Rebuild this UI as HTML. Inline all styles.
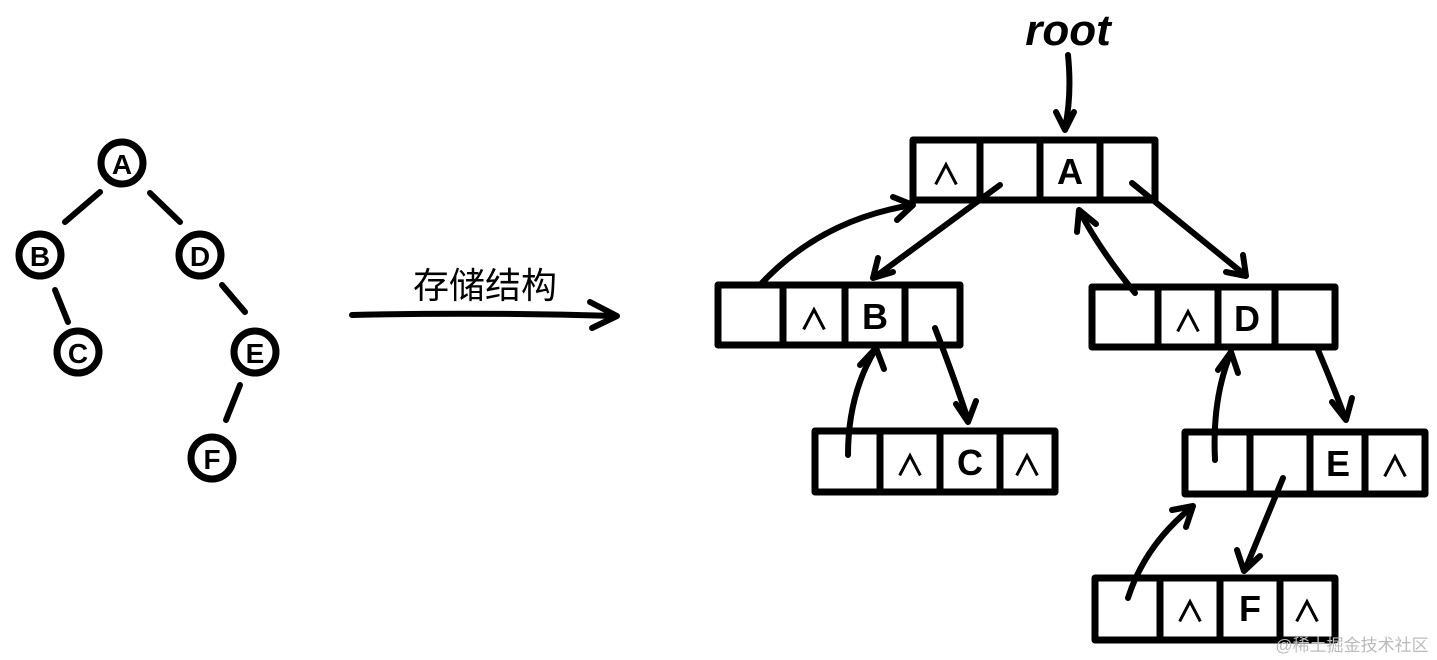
<!DOCTYPE html>
<html><head><meta charset="utf-8"><style>
html,body{margin:0;padding:0;background:#fff;}
svg{display:block}
text{font-family:"Liberation Sans","Noto Sans CJK SC",sans-serif;}
</style></head><body>
<svg width="1437" height="660" viewBox="0 0 1437 660" xmlns="http://www.w3.org/2000/svg">
<g fill="none" stroke="#000" stroke-width="6" stroke-linecap="round" stroke-linejoin="round">
<!-- left tree -->
<g stroke-width="7">
<circle cx="122" cy="163" r="21"/>
<circle cx="40" cy="255" r="21"/>
<circle cx="200" cy="255" r="21"/>
<circle cx="78" cy="352" r="21"/>
<circle cx="255" cy="352" r="21"/>
<circle cx="212" cy="458" r="21"/>
</g>
<line x1="100" y1="192" x2="65" y2="222"/>
<line x1="150" y1="193" x2="180" y2="222"/>
<line x1="55" y1="290" x2="68" y2="322"/>
<line x1="222" y1="285" x2="245" y2="312"/>
<line x1="240" y1="385" x2="226" y2="420"/>
<!-- big arrow -->
<path d="M352 315 Q480 312 616 316"/>
<path d="M590 302 L617 316 L592 328"/>
<!-- root arrow -->
<path d="M1068 55 Q1072 95 1065 128"/>
<path d="M1056 112 L1065 130 L1074 112"/>
<!-- boxes -->
<g stroke-width="7">
<rect x="913" y="140" width="242" height="60"/>
<line x1="980" y1="140" x2="980" y2="200"/><line x1="1040" y1="140" x2="1040" y2="200"/><line x1="1100" y1="140" x2="1100" y2="200"/>
<rect x="718" y="285" width="242" height="60"/>
<line x1="783" y1="285" x2="783" y2="345"/><line x1="845" y1="285" x2="845" y2="345"/><line x1="905" y1="285" x2="905" y2="345"/>
<rect x="1092" y="287" width="243" height="60"/>
<line x1="1158" y1="287" x2="1158" y2="347"/><line x1="1218" y1="287" x2="1218" y2="347"/><line x1="1275" y1="287" x2="1275" y2="347"/>
<rect x="815" y="431" width="240" height="61"/>
<line x1="880" y1="431" x2="880" y2="492"/><line x1="940" y1="431" x2="940" y2="492"/><line x1="1000" y1="431" x2="1000" y2="492"/>
<rect x="1185" y="432" width="240" height="62"/>
<line x1="1250" y1="432" x2="1250" y2="494"/><line x1="1310" y1="432" x2="1310" y2="494"/><line x1="1365" y1="432" x2="1365" y2="494"/>
<rect x="1095" y="578" width="240" height="62"/>
<line x1="1160" y1="578" x2="1160" y2="640"/><line x1="1220" y1="578" x2="1220" y2="640"/><line x1="1280" y1="578" x2="1280" y2="640"/>
</g>
<!-- connectors -->
<path d="M1000 185 L875 277"/><path d="M878 258 L873 278 L893 272"/>
<path d="M760 285 Q820 220 912 205"/><path d="M893 197 L913 205 L897 220"/>
<path d="M1132 183 L1245 275"/><path d="M1243 255 L1246 276 L1226 272"/>
<path d="M1135 293 Q1100 250 1080 212"/><path d="M1077 232 L1079 210 L1096 224"/>
<path d="M935 328 Q955 380 968 420"/><path d="M956 404 L968 422 L976 401"/>
<path d="M848 455 Q848 395 875 350"/><path d="M860 365 L876 348 L884 369"/>
<path d="M1318 350 Q1335 390 1345 418"/><path d="M1332 402 L1346 420 L1352 398"/>
<path d="M1215 460 Q1212 400 1230 355"/><path d="M1218 370 L1231 352 L1238 373"/>
<path d="M1283 478 L1245 570"/><path d="M1237 550 L1244 571 L1260 556"/>
<path d="M1128 598 Q1145 545 1192 507"/><path d="M1172 510 L1193 506 L1186 527"/>
</g>
<!-- labels -->
<g font-weight="bold" font-size="30" text-anchor="middle" fill="#000">
<text x="122" y="174" font-size="28">A</text>
<text x="40" y="266" font-size="28">B</text>
<text x="200" y="266" font-size="28">D</text>
<text x="78" y="363" font-size="28">C</text>
<text x="255" y="363" font-size="28">E</text>
<text x="212" y="469" font-size="28">F</text>
<text x="946" y="185">∧</text><text x="1070" y="184" font-size="36">A</text>
<text x="814" y="330">∧</text><text x="875" y="329" font-size="36">B</text>
<text x="1188" y="332">∧</text><text x="1247" y="331" font-size="36">D</text>
<text x="910" y="476">∧</text><text x="970" y="475" font-size="36">C</text><text x="1027" y="476">∧</text>
<text x="1338" y="476" font-size="36">E</text><text x="1395" y="477">∧</text>
<text x="1190" y="622">∧</text><text x="1250" y="621" font-size="36">F</text><text x="1307" y="622">∧</text>
</g>
<text x="485" y="298" font-size="36" text-anchor="middle" fill="#000">存储结构</text>
<text x="1068" y="45" font-size="44" font-style="italic" font-weight="bold" text-anchor="middle" font-family="Liberation Serif, serif">root</text>
<text x="1352" y="651" font-size="17" text-anchor="middle" fill="#bbb">@稀土掘金技术社区</text>
</svg>
</body></html>
